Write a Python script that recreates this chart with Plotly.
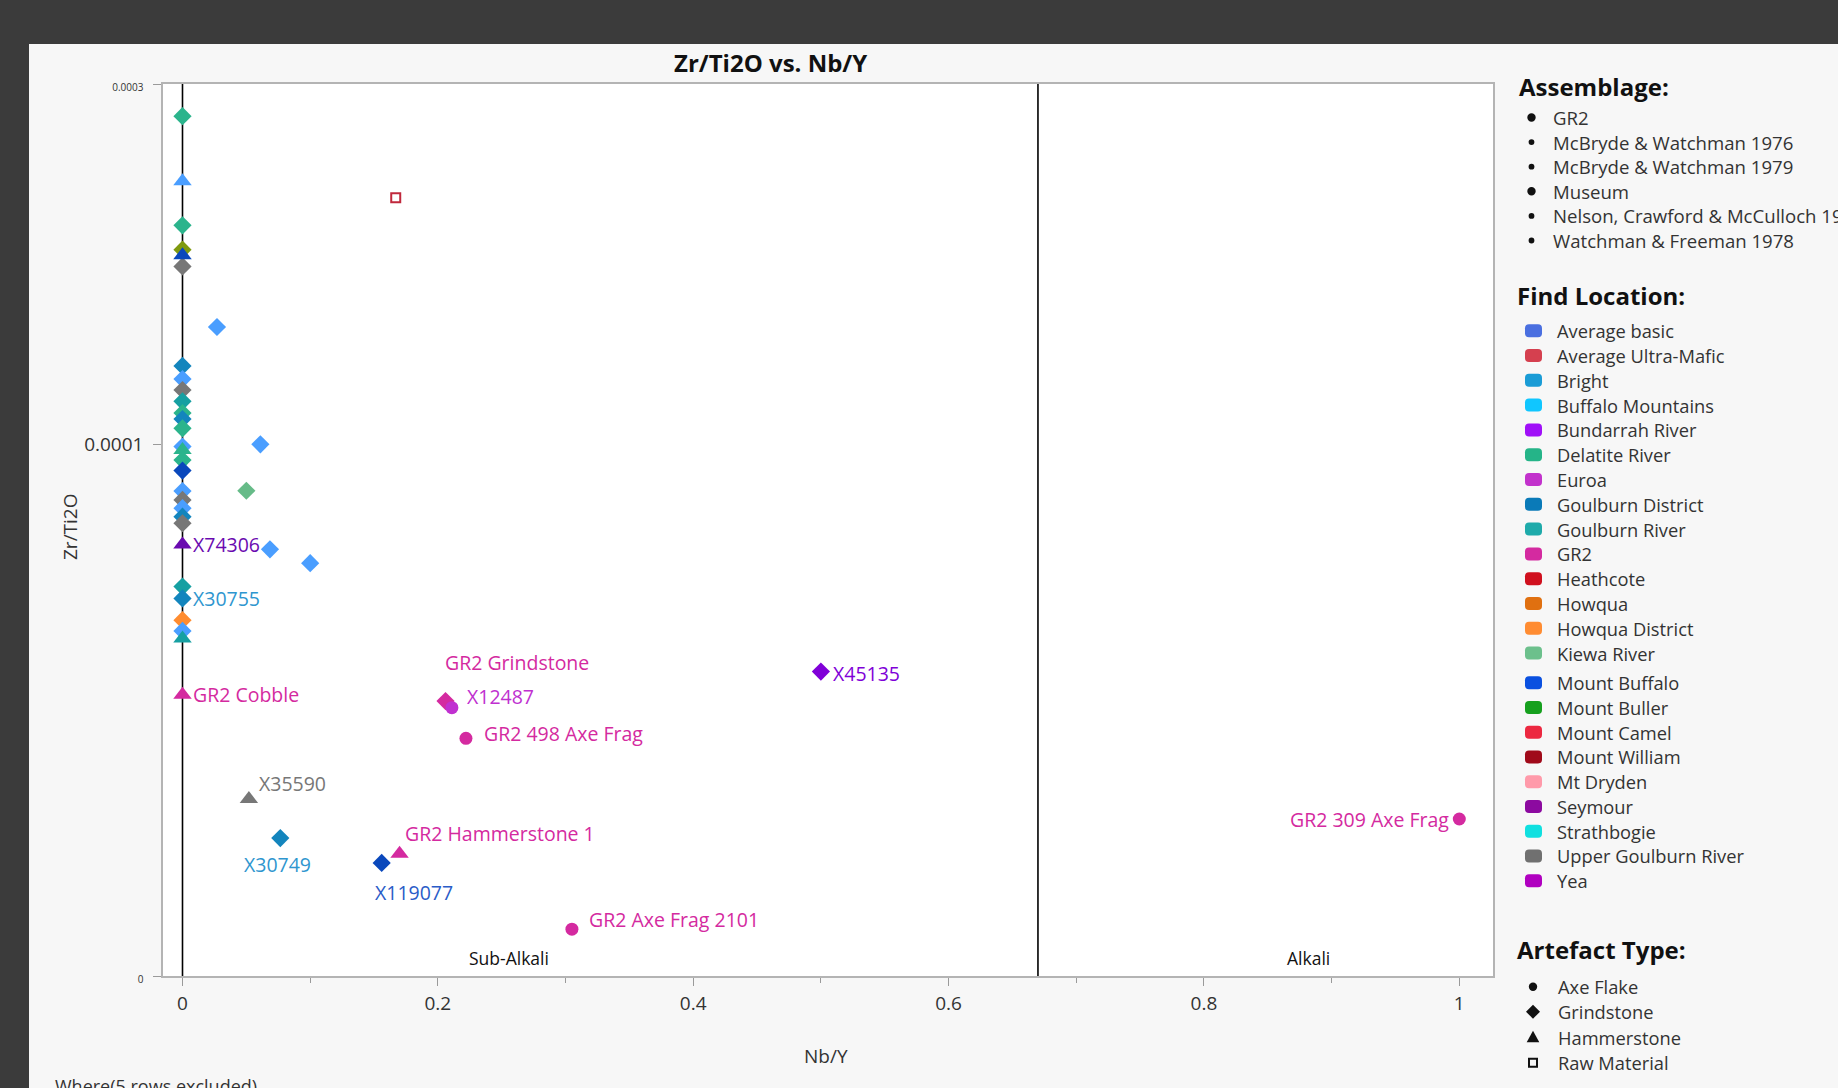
import math
import plotly.graph_objects as go

# ---------------------------------------------------------------------------
# Data: Zr/Ti2O against Nb/Y for the analysed stone artefacts
# ---------------------------------------------------------------------------
NB_Y = [
    0.0, 0.0, 0.0, 0.0, 0.0, 0.0, 0.027, 0.0, 0.0, 0.0,
    0.0, 0.0, 0.0, 0.0, 0.061, 0.0, 0.0, 0.0, 0.0, 0.050,
    0.0, 0.0, 0.0, 0.0, 0.0, 0.0, 0.0685, 0.100, 0.0, 0.0,
    0.0, 0.0, 0.0, 0.0, 0.167, 0.206, 0.211, 0.222, 0.500, 0.052,
    0.0766, 0.156, 0.170, 0.305, 1.000,
]
ZR_TI2O = [
    2.72e-4, 2.23e-4, 1.95e-4, 1.81e-4, 1.72e-4, 1.78e-4, 1.43e-4, 1.27e-4, 1.22e-4, 1.18e-4,
    1.14e-4, 1.10e-4, 1.08e-4, 1.05e-4, 1.00e-4, 0.993e-4, 0.983e-4, 9.53e-5, 9.23e-5, 8.68e-5,
    8.67e-5, 8.44e-5, 8.23e-5, 8.02e-5, 7.86e-5, 7.37e-5, 7.26e-5, 6.96e-5, 6.48e-5, 6.25e-5,
    5.85e-5, 5.66e-5, 5.53e-5, 4.66e-5, 2.12e-4, 4.57e-5, 4.48e-5, 4.08e-5, 5.00e-5, 3.39e-5,
    3.01e-5, 2.79e-5, 2.87e-5, 2.28e-5, 3.19e-5,
]
LOCATION = [
    "Delatite River", "Bright", "Delatite River", "Mount Buller", "Upper Goulburn River",
    "Mount Buffalo", "Bright", "Goulburn District", "Bright", "Upper Goulburn River",
    "Goulburn River", "Delatite River", "Goulburn District", "Delatite River", "Bright",
    "Bright", "Delatite River", "Delatite River", "Mount Buffalo", "Kiewa River",
    "Bright", "Upper Goulburn River", "Bright", "Goulburn District", "Upper Goulburn River",
    "Seymour", "Bright", "Bright", "Goulburn River", "Goulburn District",
    "Howqua District", "Bright", "Goulburn River", "GR2", "Heathcote",
    "GR2", "Euroa", "GR2", "Bundarrah River", "Upper Goulburn River",
    "Goulburn District", "Mount Buffalo", "GR2", "GR2", "GR2",
]
ARTEFACT = [
    "Grindstone", "Hammerstone", "Grindstone", "Grindstone", "Grindstone",
    "Hammerstone", "Grindstone", "Grindstone", "Grindstone", "Grindstone",
    "Grindstone", "Grindstone", "Grindstone", "Grindstone", "Grindstone",
    "Grindstone", "Hammerstone", "Grindstone", "Grindstone", "Grindstone",
    "Grindstone", "Grindstone", "Grindstone", "Grindstone", "Grindstone",
    "Hammerstone", "Grindstone", "Grindstone", "Grindstone", "Grindstone",
    "Grindstone", "Grindstone", "Hammerstone", "Hammerstone", "Raw Material",
    "Grindstone", "Axe Flake", "Axe Flake", "Grindstone", "Hammerstone",
    "Grindstone", "Grindstone", "Hammerstone", "Axe Flake", "Axe Flake",
]
LABEL = [
    "", "", "", "", "", "", "", "", "", "",
    "", "", "", "", "", "", "", "", "", "",
    "", "", "", "", "", "X74306", "", "", "", "X30755",
    "", "", "", "GR2 Cobble", "", "GR2 Grindstone", "X12487", "GR2 498 Axe Frag", "X45135", "X35590",
    "X30749", "X119077", "GR2 Hammerstone 1", "GR2 Axe Frag 2101", "GR2 309 Axe Frag",
]

# Winchester & Floyd style Nb/Y divide between sub-alkaline and alkaline rocks
ALKALI_DIVIDE = 0.67

ASSEMBLAGES = [
    "GR2", "McBryde & Watchman 1976", "McBryde & Watchman 1979", "Museum",
    "Nelson, Crawford & McCulloch 1977", "Watchman & Freeman 1978",
]
FIND_LOCATIONS = [
    "Average basic", "Average Ultra-Mafic", "Bright", "Buffalo Mountains", "Bundarrah River",
    "Delatite River", "Euroa", "Goulburn District", "Goulburn River", "GR2", "Heathcote",
    "Howqua", "Howqua District", "Kiewa River", "Mount Buffalo", "Mount Buller", "Mount Camel",
    "Mount William", "Mt Dryden", "Seymour", "Strathbogie", "Upper Goulburn River", "Yea",
]
ARTEFACT_TYPES = ["Axe Flake", "Grindstone", "Hammerstone", "Raw Material"]

# Y axis tick values and their labels
Y_TICKS = [10 ** -4.7041, 1e-4, 3e-4]
Y_TICK_TEXT = ["0", "0.0001", "0.0003"]
X_TICKS = [0, 0.2, 0.4, 0.6, 0.8, 1]
X_TICK_TEXT = ["0", "0.2", "0.4", "0.6", "0.8", "1"]
X_MINOR = [0.1, 0.3, 0.5, 0.7, 0.9]

# ---------------------------------------------------------------------------
# Styling
# ---------------------------------------------------------------------------
FONT = "Open Sans, Noto Sans, DejaVu Sans, sans-serif"
TEXT = "#333333"

SWATCH = {
    "Average basic": "#4a6fe0", "Average Ultra-Mafic": "#d5404f", "Bright": "#1a9cd6",
    "Buffalo Mountains": "#10c6ff", "Bundarrah River": "#a010f8", "Delatite River": "#25b488",
    "Euroa": "#c232cc", "Goulburn District": "#0a7ab8", "Goulburn River": "#1eaaaa",
    "GR2": "#d42aa0", "Heathcote": "#d0101e", "Howqua": "#e07010",
    "Howqua District": "#ff8c32", "Kiewa River": "#6cc08c", "Mount Buffalo": "#0a50e0",
    "Mount Buller": "#16a01e", "Mount Camel": "#ec2840", "Mount William": "#a00a1a",
    "Mt Dryden": "#ff9aaa", "Seymour": "#8c0aa0", "Strathbogie": "#10e0e0",
    "Upper Goulburn River": "#707070", "Yea": "#b000c0",
}
MARKER_COLOUR = {
    "Bright": "#4a9eff", "Delatite River": "#2bb48c", "Goulburn District": "#1385bd",
    "Goulburn River": "#16a0a2", "Mount Buller": "#7f9a0f", "Mount Buffalo": "#0a48bc",
    "Upper Goulburn River": "#777777", "Kiewa River": "#66bb88", "Seymour": "#6a0ab0",
    "Howqua District": "#ff8c30", "GR2": "#d42aa0", "Euroa": "#c030d0",
    "Bundarrah River": "#8000d8", "Heathcote": "#c0283c",
}
LABEL_COLOUR = dict(MARKER_COLOUR, **{"Goulburn District": "#2f96cf",
                                      "Mount Buffalo": "#2a5cc8"})
SYMBOL = {"Axe Flake": "circle", "Grindstone": "diamond", "Hammerstone": "triangle-up",
          "Raw Material": "square-open"}
SIZE = {"Axe Flake": 13, "Grindstone": 14, "Hammerstone": 16, "Raw Material": 9}

# label placement: (xanchor, xshift, yshift) in pixels relative to the marker
LABEL_PLACE = {
    "X74306": ("left", 8, 0), "X30755": ("left", 8, 0), "GR2 Cobble": ("left", 8, 0),
    "X35590": ("left", 8, 16), "X30749": ("center", -3, -26), "X119077": ("left", -9, -30),
    "GR2 Hammerstone 1": ("left", 3, 20), "GR2 Axe Frag 2101": ("left", 15, 10),
    "GR2 498 Axe Frag": ("left", 16, 5), "X12487": ("left", 13, 11),
    "GR2 Grindstone": ("left", -3, 39), "X45135": ("left", 10, -2),
    "GR2 309 Axe Frag": ("right", -8, 0),
}

FIG_W, FIG_H = 1838, 1088
ML, MR, MT, MB = 163, 345, 84, 112
PW = FIG_W - ML - MR
PH = FIG_H - MT - MB
X_ZERO_PX, X_UNIT_PX = 182.5, 1276.8


def px(x):
    """pixel column -> paper x"""
    return (x - ML) / PW


def py(y):
    """pixel row (from top) -> paper y"""
    return (FIG_H - MB - y) / PH


fig = go.Figure()

# scatter marks, one trace per artefact type
for art in ["Grindstone", "Hammerstone", "Axe Flake", "Raw Material"]:
    idx = [i for i, a in enumerate(ARTEFACT) if a == art]
    marker = dict(
        symbol=SYMBOL[art], size=SIZE[art],
        color=[MARKER_COLOUR[LOCATION[i]] for i in idx],
        line=dict(width=2 if art == "Raw Material" else 0),
    )
    fig.add_trace(go.Scatter(
        x=[NB_Y[i] for i in idx], y=[ZR_TI2O[i] for i in idx],
        mode="markers", marker=marker, name=art, showlegend=False,
        hoverinfo="x+y",
    ))

annotations = []
shapes = []

# point labels
for i, lab in enumerate(LABEL):
    if not lab:
        continue
    anchor, dx, dy = LABEL_PLACE[lab]
    annotations.append(dict(
        x=NB_Y[i], y=math.log10(ZR_TI2O[i]), xref="x", yref="y", text=lab,
        showarrow=False, xanchor=anchor, yanchor="middle", xshift=dx, yshift=dy,
        font=dict(family=FONT, size=19.5, color=LABEL_COLOUR[LOCATION[i]]),
    ))

# reference lines at Nb/Y = 0 and at the alkali divide
for xv in (0, ALKALI_DIVIDE):
    shapes.append(dict(type="line", xref="x", yref="paper", x0=xv, x1=xv, y0=0, y1=1,
                       line=dict(color="black", width=1.6), layer="below"))

# region names
for name, xv in (("Sub-Alkali", 0.2557), ("Alkali", 0.8815)):
    annotations.append(dict(x=xv, y=py(958), xref="x", yref="paper", text=name,
                            showarrow=False, xanchor="center", yanchor="middle",
                            font=dict(family=FONT, size=17.5, color="#111111")))

# dark window chrome around the report panel
shapes.append(dict(type="rect", xref="paper", yref="paper", x0=px(0), x1=px(FIG_W),
                   y0=py(44), y1=py(0), fillcolor="#3b3b3b", line=dict(width=0)))
shapes.append(dict(type="rect", xref="paper", yref="paper", x0=px(0), x1=px(29),
                   y0=py(FIG_H), y1=py(0), fillcolor="#3b3b3b", line=dict(width=0)))


def text_at(x, y, s, size, color=TEXT, anchor="left", angle=0):
    annotations.append(dict(xref="paper", yref="paper", x=px(x), y=py(y), text=s,
                            showarrow=False, xanchor=anchor, yanchor="middle",
                            textangle=angle, font=dict(family=FONT, size=size, color=color)))


def path_from(points):
    return "M" + " L".join(f"{px(a):.6f},{py(b):.6f}" for a, b in points) + " Z"


def rounded_rect(cx, cy, w, h, r, colour):
    x0, x1, y0, y1 = cx - w / 2, cx + w / 2, cy - h / 2, cy + h / 2

    def p(a, b):
        return f"{px(a):.6f},{py(b):.6f}"
    d = (f"M{p(x0 + r, y0)} L{p(x1 - r, y0)} Q{p(x1, y0)} {p(x1, y0 + r)} "
         f"L{p(x1, y1 - r)} Q{p(x1, y1)} {p(x1 - r, y1)} L{p(x0 + r, y1)} "
         f"Q{p(x0, y1)} {p(x0, y1 - r)} L{p(x0, y0 + r)} Q{p(x0, y0)} {p(x0 + r, y0)} Z")
    shapes.append(dict(type="path", xref="paper", yref="paper", path=d,
                       fillcolor=colour, line=dict(width=0)))


def dot(cx, cy, r, colour="#111111"):
    shapes.append(dict(type="circle", xref="paper", yref="paper",
                       x0=px(cx - r), x1=px(cx + r), y0=py(cy + r), y1=py(cy - r),
                       fillcolor=colour, line=dict(width=0)))


# title and axis titles
text_at(770, 62, "<b>Zr/Ti2O vs. Nb/Y</b>", 24, "#111111", "center")
text_at(70, 527, "Zr/Ti2O", 19, TEXT, "center", -90)
text_at(826, 1056, "Nb/Y", 19, TEXT, "center")
annotations.append(dict(xref="paper", yref="paper", x=px(53), y=py(1072),
                        text="Where(5 rows excluded)", showarrow=False,
                        xanchor="left", yanchor="top",
                        font=dict(family=FONT, size=18, color=TEXT)))

# legend: Assemblage
text_at(1517, 86, "<b>Assemblage:</b>", 24, "#111111")
for k, name in enumerate(ASSEMBLAGES):
    y = 117.5 + 24.6 * k
    dot(1531.5, y, 4.2 if name in ("GR2", "Museum") else 2.9)
    text_at(1551, y, name, 18.6)

# legend: Find Location
text_at(1515, 295, "<b>Find Location:</b>", 24, "#111111")
for k, name in enumerate(FIND_LOCATIONS):
    y = 330.7 + 24.8 * k if k < 14 else 682.7 + 24.75 * (k - 14)
    rounded_rect(1533.5, y, 17, 13, 4, SWATCH[name])
    text_at(1555, y, name, 18.3)

# legend: Artefact Type
text_at(1515, 949, "<b>Artefact Type:</b>", 24, "#111111")
art_y = [986.7, 1011.7, 1037.3, 1062.7]
for name, y in zip(ARTEFACT_TYPES, art_y):
    text_at(1556, y, name, 18.3)
cx = 1533
dot(cx, art_y[0], 4.2)
shapes.append(dict(type="path", xref="paper", yref="paper", fillcolor="#111111",
                   line=dict(width=0),
                   path=path_from([(cx, art_y[1] - 7), (cx + 7, art_y[1]),
                                   (cx, art_y[1] + 7), (cx - 7, art_y[1])])))
shapes.append(dict(type="path", xref="paper", yref="paper", fillcolor="#111111",
                   line=dict(width=0),
                   path=path_from([(cx, art_y[2] - 6.5), (cx + 6.3, art_y[2] + 5),
                                   (cx - 6.3, art_y[2] + 5)])))
shapes.append(dict(type="rect", xref="paper", yref="paper",
                   x0=px(cx - 4), x1=px(cx + 4), y0=py(art_y[3] + 4), y1=py(art_y[3] - 4),
                   fillcolor="rgba(0,0,0,0)", line=dict(color="#111111", width=2)))

axis_common = dict(
    showgrid=False, zeroline=False, showline=True, mirror=True,
    linecolor="#b4b4b4", linewidth=1.5, ticks="outside", ticklen=8,
    tickcolor="#9a9a9a", tickwidth=1.2,
    tickfont=dict(family=FONT, size=19, color=TEXT),
)

fig.update_layout(
    width=FIG_W, height=FIG_H,
    margin=dict(l=ML, r=MR, t=MT, b=MB, pad=0),
    paper_bgcolor="#f7f7f7", plot_bgcolor="white",
    showlegend=False,
    xaxis=dict(
        range=[(ML - X_ZERO_PX) / X_UNIT_PX, (FIG_W - MR - X_ZERO_PX) / X_UNIT_PX],
        tickmode="array", tickvals=X_TICKS, ticktext=X_TICK_TEXT,
        ticklabelstandoff=1,
        minor=dict(tickmode="array", tickvals=X_MINOR, ticks="outside", ticklen=5,
                   tickcolor="#9a9a9a", tickwidth=1.2),
        **axis_common,
    ),
    yaxis=dict(
        type="log", range=[-4.7041, math.log10(3e-4)],
        tickmode="array", tickvals=Y_TICKS,
        ticktext=[
            f'<span style="font-size:10px">{Y_TICK_TEXT[0]}</span>',
            Y_TICK_TEXT[1],
            f'<span style="font-size:10px">{Y_TICK_TEXT[2]}</span>',
        ],
        ticklabelstandoff=6,
        **axis_common,
    ),
    annotations=annotations,
    shapes=shapes,
)

fig.write_html("out.html")
